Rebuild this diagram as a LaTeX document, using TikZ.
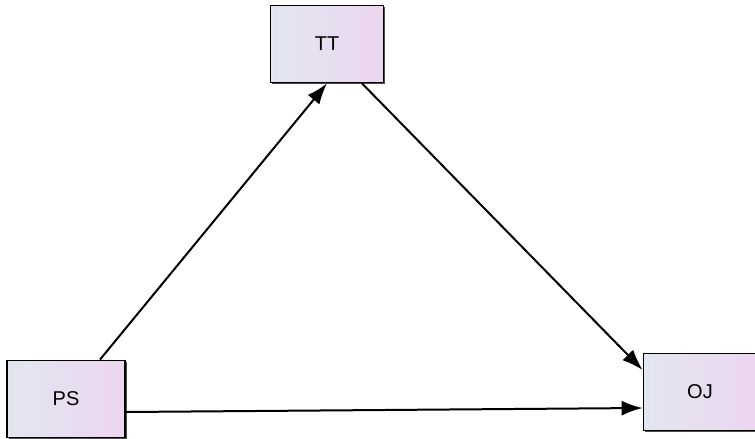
\documentclass[tikz,border=0pt]{standalone}
\usepackage{fontspec}
\setmainfont{Liberation Sans}
\usepackage{tikz}
\usetikzlibrary{arrows.meta,positioning,shadows}

\definecolor{boxleft}{RGB}{226,230,240}
\definecolor{boxright}{RGB}{236,214,240}

\begin{document}
\begin{tikzpicture}[
  x=1pt, y=-1pt,
  block/.style={draw,line width=1.8pt,minimum width=113pt,minimum height=77pt,left color=boxleft,right color=boxright,shading angle=90,font=\fontsize{20}{24}\selectfont,drop shadow={shadow xshift=1.5pt,shadow yshift=-1.5pt,fill=black!70,opacity=1}},
  arrow/.style={-{Latex[length=21pt,width=15pt]},line width=2pt}
]
\useasboundingbox (0,0) rectangle (755,439);
\node[block] (tt) at (327,44) {TT};
\node[block, minimum width=118pt] (ps) at (66,399) {PS};
\node[block, minimum width=113pt] (oj) at (700,392) {OJ};

\draw[arrow] ([xshift=34pt]ps.north) -- (tt.south);
\draw[arrow] ([xshift=35pt]tt.south) -- ([yshift=22pt]oj.west);
\draw[arrow] ([yshift=-13pt]ps.east) -- ([yshift=-16pt]oj.west);
\end{tikzpicture}
\end{document}
